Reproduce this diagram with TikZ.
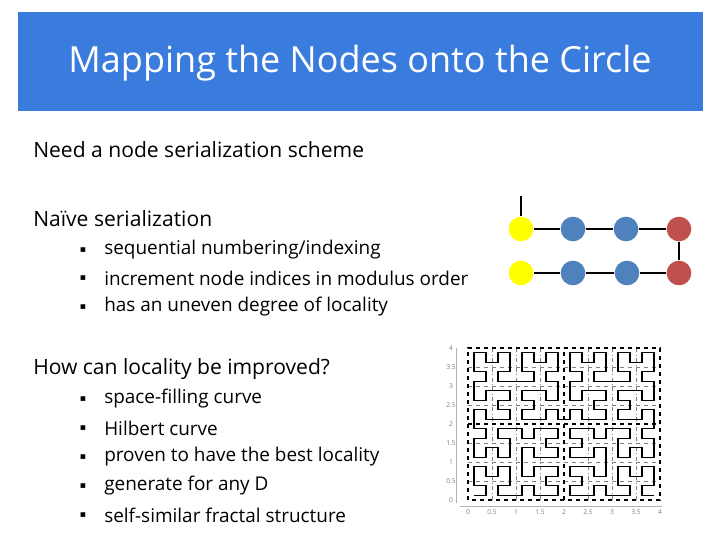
\documentclass[tikz,border=0pt]{standalone}
\usepackage{fontspec}
\setmainfont{Open Sans}
\newfontfamily\symf{DejaVu Sans}
\usetikzlibrary{lindenmayersystems}
\pgfdeclarelindenmayersystem{Hilb}{\rule{A -> +BF-AFA-FB+}\rule{B -> -AF+BFB+FA-}}
\definecolor{tbar}{RGB}{58,124,221}
\definecolor{nyel}{RGB}{255,255,0}
\definecolor{nblu}{RGB}{79,129,189}
\definecolor{nred}{RGB}{192,80,77}
\tikzset{
 head/.style={font=\fontsize{15.8}{19}\selectfont,anchor=west,inner sep=0},
 item/.style={font=\fontsize{14.2}{17}\selectfont,anchor=west,inner sep=0},
 bul/.style={font=\symf\fontsize{7}{8}\selectfont,inner sep=0},
 dot/.style={circle,minimum size=18.5pt,inner sep=0},
 edge/.style={line width=1.3pt},
 tick/.style={font=\fontsize{5}{6}\selectfont,text=gray,inner sep=0}
}
\begin{document}
\begin{tikzpicture}[x=0.75pt,y=-0.75pt]
\useasboundingbox (0,0) rectangle (720,540);
\fill[tbar] (18,12) rectangle (703,111);
\node[text=white,font=\fontsize{27}{32}\selectfont,inner sep=0] (title) at (360,63) {Mapping the Nodes onto the Circle};
\node[head] (h1) at (33,150) {Need a node serialization scheme};
\node[head] (h2) at (33,219) {Naïve serialization};
\foreach \t [count=\i] in {sequential numbering/indexing,increment node indices in modulus order,has an uneven degree of locality}{
 \node[bul] (ba\i) at (83,{250+28.5*(\i-1)}) {▪};
 \node[item] (ia\i) at (104,{250+28.5*(\i-1)}) {\t};}
\node[head] (h3) at (33,369) {How can locality be improved?};
\foreach \t [count=\i] in {space-filling curve,Hilbert curve,proven to have the best locality,generate for any D,self-similar fractal structure}{
 \node[bul] (bb\i) at (83,{399+29*(\i-1)}) {▪};
 \node[item] (ib\i) at (104,{399+29*(\i-1)}) {\t};}
% nodes
\coordinate (top) at (521,196);
\node[dot,fill=nyel] (y1) at (521,229) {};
\node[dot,fill=nyel] (y2) at (521,273) {};
\node[dot,fill=nblu] (b1) at (573,229) {};
\node[dot,fill=nblu] (b2) at (626,229) {};
\node[dot,fill=nblu] (b3) at (573,273) {};
\node[dot,fill=nblu] (b4) at (627,273) {};
\node[dot,fill=nred] (r1) at (679,229) {};
\node[dot,fill=nred] (r2) at (679,273) {};
\draw[edge] (top) -- (y1) (y1) -- (b1) -- (b2) -- (r1) -- (r2) -- (b4) -- (b3) -- (y2);
% plot
\begin{scope}[shift={(468,500)},yscale=-1]
 \draw[gray!60] (-8,-6) -- (194,-6);
 \draw[gray!60] (-12,-3) -- (-12,152);
 \foreach \v/\l in {0/0,0.5/0.5,1/1,1.5/1.5,2/2,2.5/2.5,3/3,3.5/3.5,4/4}{
  \node[tick] at ({48*\v},-12) {\l};
  \node[tick] at (-17,{38*\v}) {\l};}
 \foreach \v in {0.5,1,1.5,2.5,3,3.5}{
  \draw[gray,dashed,line width=0.4pt] (0,{38*\v}) -- (192,{38*\v});
  \draw[gray,dash dot,line width=0.4pt] ({48*\v},0) -- ({48*\v},152);}
 \draw[line width=1.6pt,dashed] (0,0) rectangle (192,152) (96,0) -- (96,152) (0,76) -- (192,76);
 \begin{scope}[shift={(6,4.75)},yscale=-0.7917]
 \draw[line width=0.9pt] (0,0) lindenmayer system[lindenmayer system={Hilb, axiom=A, order=4, step=9pt, angle=90}];
 \end{scope}
\end{scope}
\end{tikzpicture}
\end{document}
